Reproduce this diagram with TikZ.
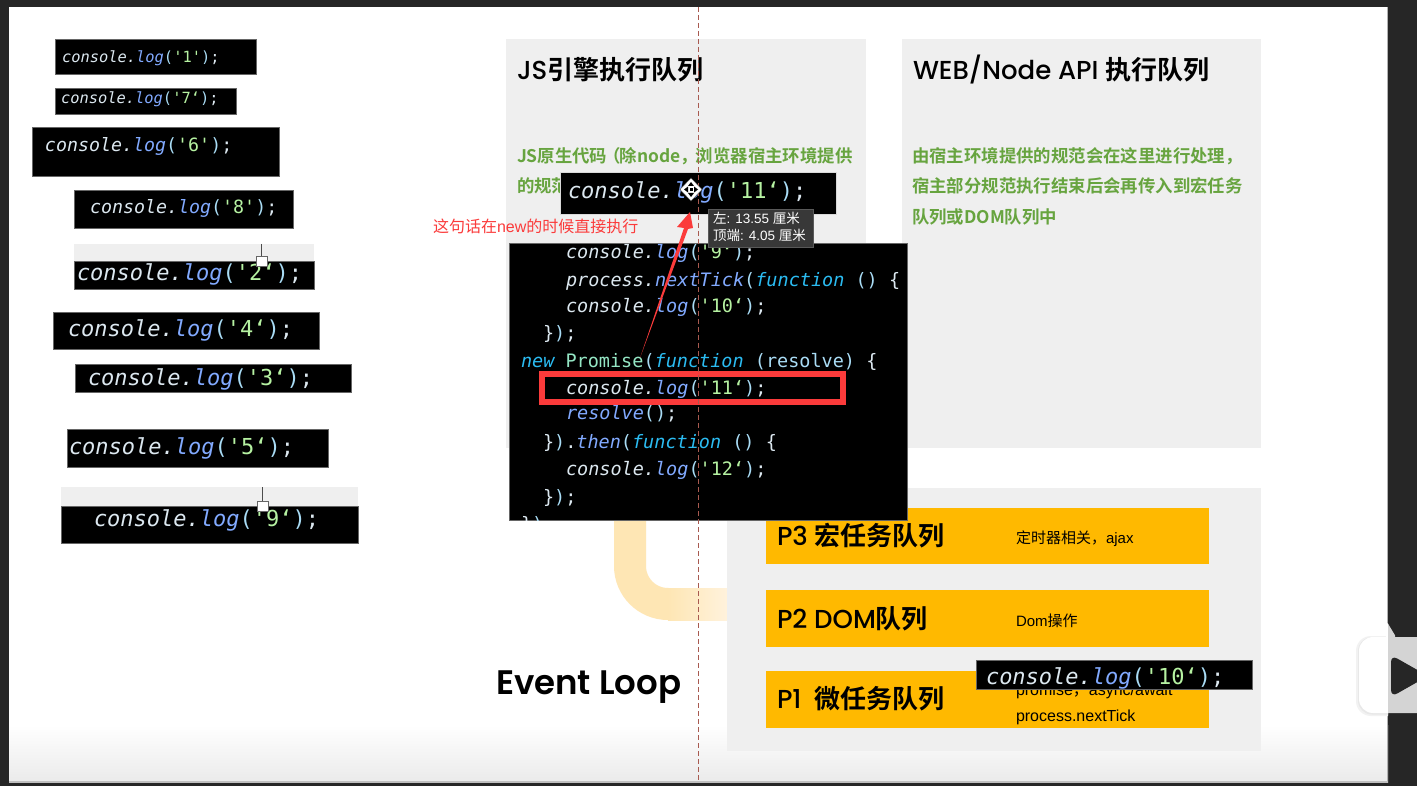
\documentclass[tikz,border=0pt]{standalone}
\usepackage{fontspec}
\usetikzlibrary{calc}
\setmainfont{Liberation Sans}
\newfontfamily\cjkb{Noto Sans CJK SC Bold}
\newfontfamily\cjkr{Noto Sans CJK SC}
\newfontfamily\pop{Poppins}[BoldFont=* SemiBold]
\newfontfamily\popm{Poppins Medium}
\newfontfamily\codef{DejaVu Sans Mono}
\definecolor{framec}{HTML}{262626}
\definecolor{panelc}{HTML}{EFEFEF}
\definecolor{barc}{HTML}{FFB900}
\definecolor{ringc}{HTML}{FEE6B4}
\definecolor{ringd}{HTML}{FFF2DC}
\definecolor{greenc}{HTML}{67A43F}
\definecolor{redc}{HTML}{FB3B3B}
\definecolor{guidec}{HTML}{A85A50}
\definecolor{cw}{HTML}{DCE8F0}
\definecolor{cb}{HTML}{82AAFF}
\definecolor{cp}{HTML}{A9DCF5}
\definecolor{cg}{HTML}{B6F2A2}
\definecolor{cc}{HTML}{2BBCF2}
\definecolor{cm}{HTML}{94E6C4}
\newcommand{\fs}[1]{\fontsize{#1}{#1}\selectfont}
\newcommand{\clog}[1]{{\codef\textcolor{cw}{\itshape console.}\textcolor{cb}{\itshape log}\textcolor{cp}{(}\textcolor{cg}{#1}\textcolor{cp}{)}\textcolor{cw}{;}}}
\newcommand{\cfun}{\textcolor{cc}{\itshape function}}
\tikzset{
  x=1pt,y=-1pt,
  txt/.style={inner sep=0pt,outer sep=0pt,anchor=base west},
  panel/.style={fill=panelc},
  bar/.style={fill=barc},
  snip/.style={fill=black,draw=black!60,line width=0.5pt},
  handle/.style={fill=white,draw=black!60,line width=0.6pt},
  title/.style={txt,text=black},
  greentxt/.style={txt,text=greenc,font=\cjkb\fs{17.4}},
  cline/.style={txt,font=\codef\fs{18.5},text=cw},
}
\begin{document}
\begin{tikzpicture}
\useasboundingbox (0,0) rectangle (1417,786);
% frame and page
\fill[framec] (0,0) rectangle (1417,786);
\fill[white] (9,7) rectangle (1388,782);
\shade[top color=white,bottom color=black!8] (9,725) rectangle (1388,782);
\fill[black!30] (1386.5,7) rectangle (1388,782);
\fill[black!25] (9,781) rectangle (1388,782.5);
% ring
\draw[ringc,line width=32pt,rounded corners=38pt] (630,510) -- (630,604) -- (727,604);
\shade[left color=ringc,right color=ringd] (668,588) rectangle (727,620);
% panels
\fill[panel] (506,39) rectangle (866,448);
\fill[panel] (902,39) rectangle (1261,448);
\fill[panel] (727,488) rectangle (1261,751);
% bars
\fill[bar] (766,508) rectangle (1209,564);
\fill[bar] (766,590) rectangle (1209,647);
\fill[bar] (766,671) rectangle (1209,728);
% titles
\node[title] (t1) at (517,80) {\fs{26}{\popm JS}{\cjkb 引擎执行队列}};
\node[title] (t2) at (913,80) {\fs{26}{\popm WEB/Node API }{\cjkb 执行队列}};
\node[title] (t3) at (496,694) {\fs{34}\pop\bfseries Event Loop};
% green text
\node[greentxt] (g1) at (517,162.5) {JS原生代码\kern-4pt （\kern-1pt 除node，\kern-2pt 浏览器宿主环境提供};
\node[greentxt] (g2) at (517,193) {的规范};
\node[greentxt] (w1) at (912,162.5) {由宿主环境提供的规范会在这里进行处理，};
\node[greentxt] (w2) at (912,193) {宿主部分规范执行结束后会再传入到宏任务};
\node[greentxt] (w3) at (912,223.5) {队列或DOM队列中};
% bar text
\node[title] (p3) at (777,545) {\fs{26}{\popm P3 }{\cjkb 宏任务队列}};
\node[title] (p2) at (777,628) {\fs{26}{\popm P2 DOM}{\cjkb 队列}};
\node[title] (p1) at (777,708) {\fs{26}{\popm P1 \kern6pt}{\cjkb 微任务队列}};
\node[txt] (d3) at (1016,543) {\fs{15}{\cjkr 定时器相关，}ajax};
\node[txt] (d2) at (1016,626) {\fs{15}Dom{\cjkr 操作}};
\node[txt] (d1a) at (1016,695) {\fs{16}promise{\cjkr ，}async/await};
\node[txt] (d1b) at (1016,721) {\fs{16}process.nextTick};
% left snippets
\fill[snip] (55,39) rectangle (256,74);
\node[txt] (s1) at (62,63) {\fs{15.4}\clog{'1'}};
\fill[snip] (55,88) rectangle (236,114);
\node[txt] (s7) at (61,104) {\fs{15.4}\clog{'7‘}};
\fill[snip] (32,127) rectangle (279,176);
\node[txt] (s6) at (45,152) {\fs{18.3}\clog{'6'}};
\fill[snip] (74,190) rectangle (293,228);
\node[txt] (s8) at (90,214) {\fs{18.3}\clog{'8'}};
\fill[panel] (74,244) rectangle (314,261);
\fill[snip] (74,261) rectangle (314,289);
\node[txt] (s2) at (77,281) {\fs{22}\clog{'2‘}};
\draw[black!70,line width=0.6pt] (261.5,244) -- (261.5,256);
\fill[handle] (256.5,256) rectangle (267,266);
\fill[snip] (53,312) rectangle (319,349);
\node[txt] (s4) at (68,337) {\fs{22}\clog{'4‘}};
\fill[snip] (75,364) rectangle (351,392);
\node[txt] (s3) at (88,385) {\fs{22}\clog{'3‘}};
\fill[snip] (67,429) rectangle (328,467);
\node[txt] (s5) at (69,454) {\fs{22}\clog{'5‘}};
\fill[panel] (61,487) rectangle (358,506);
\fill[snip] (61,506) rectangle (358,543);
\node[txt] (s9) at (94,526) {\fs{22}\clog{'9‘}};
\draw[black!70,line width=0.6pt] (262,487) -- (262,501);
\fill[handle] (257,501) rectangle (268,511);
% big code block
\fill[snip] (509,243) rectangle (907,520);
\begin{scope}
\clip (509,243) rectangle (907,520);
\node[cline] (c1) at (566,259) {\clog{'9‘}};
\node[cline] (c2) at (566,287) {{\itshape process.}\textcolor{cb}{\itshape nextTick}\textcolor{cp}{(}\cfun\ \textcolor{cp}{()} \{};
\node[cline] (c3) at (566,313) {\clog{'10‘}};
\node[cline] (c4) at (543,340) {\}\textcolor{cp}{)};};
\node[cline] (c5) at (521,367) {\textcolor{cc}{\itshape new} \textcolor{cm}{Promise}\textcolor{cp}{(}\cfun\ \textcolor{cp}{(resolve)} \{};
\node[cline] (c6) at (566,395) {\clog{'11‘}};
\node[cline] (c7) at (566,420) {\textcolor{cb}{\itshape resolve}\textcolor{cp}{()};};
\node[cline] (c8) at (543,448) {\}\textcolor{cp}{)}.\textcolor{cb}{\itshape then}\textcolor{cp}{(}\cfun\ \textcolor{cp}{()} \{};
\node[cline] (c9) at (566,475) {\clog{'12‘}};
\node[cline] (c10) at (543,503) {\}\textcolor{cp}{)};};
\node[cline] (c11) at (521,530) {\}\textcolor{cp}{)}};
\end{scope}
% top snippet
\fill[fill=black,draw=white!85!black,line width=0.6pt] (560,172) rectangle (836,214);
\node[txt] (s11) at (568,199) {\fs{22}\clog{'11‘}};
% bottom snippet
\fill[snip] (976,660) rectangle (1252,689);
\node[txt] (s10) at (986,684) {\fs{22}\clog{'10‘}};
% highlight
\draw[redc,line width=6pt] (542,374.5) rectangle (843,401.5);
% arrow
\coordinate (atail) at (640,358);
\coordinate (atip) at (690,212);
\fill[redc] (atail) -- (684,228) -- (677,227) -- (atip) -- (693,228) -- (688,229) -- cycle;
% red label
\node[txt,text=redc] (note) at (433,233) {\fs{16}{\cjkr 这句话在}new{\cjkr 的时候直接执行}};
% guide
\draw[guidec,line width=0.8pt,dash pattern=on 5pt off 3pt] (698,7) -- (698,782);
% tooltip
\fill[black!78,draw=black!65,line width=0.4pt] (708,209) rectangle (813,247);
\node[txt,text=white] (tip1) at (713,224) {\fs{13.5}{\cjkr 左}: 13.55 {\cjkr 厘米}};
\node[txt,text=white] (tip2) at (713,241) {\fs{13.5}{\cjkr 顶端}: 4.05 {\cjkr 厘米}};
% move cursor
\fill[white,draw=black!70,line width=0.4pt] (691,178) -- (702,189.5) -- (691,201) -- (680,189.5) -- cycle;
\fill[black] (691,182) -- (694,186) -- (688,186) -- cycle (691,197) -- (694,193) -- (688,193) -- cycle
  (684,189.5) -- (688,186.5) -- (688,192.5) -- cycle (698,189.5) -- (694,186.5) -- (694,192.5) -- cycle;
\fill[black] (689.5,188) rectangle (692.5,191);
% player widget
\begin{scope}
\clip (1340,610) rectangle (1388,786);
\fill[black!5,rounded corners=15pt] (1356,636) rectangle (1430,716);
\fill[black!9,rounded corners=14pt] (1358,637) rectangle (1430,714.5);
\fill[white,rounded corners=14pt] (1359,637) rectangle (1430,713);
\fill[white,rounded corners=2pt] (1382,630) -- (1387,622) -- (1396,637) -- (1388,640) -- cycle;
\end{scope}
\begin{scope}
\clip (1388,610) rectangle (1417,786);
\fill[black!17,rounded corners=14pt] (1359,637) rectangle (1440,713);
\fill[black!17,rounded corners=2pt] (1382,630) -- (1387,622) -- (1396,637) -- (1388,640) -- cycle;
\fill[framec,rounded corners=7pt] (1391,655) -- (1428,676) -- (1391,697) -- cycle;
\end{scope}
\end{tikzpicture}
\end{document}
